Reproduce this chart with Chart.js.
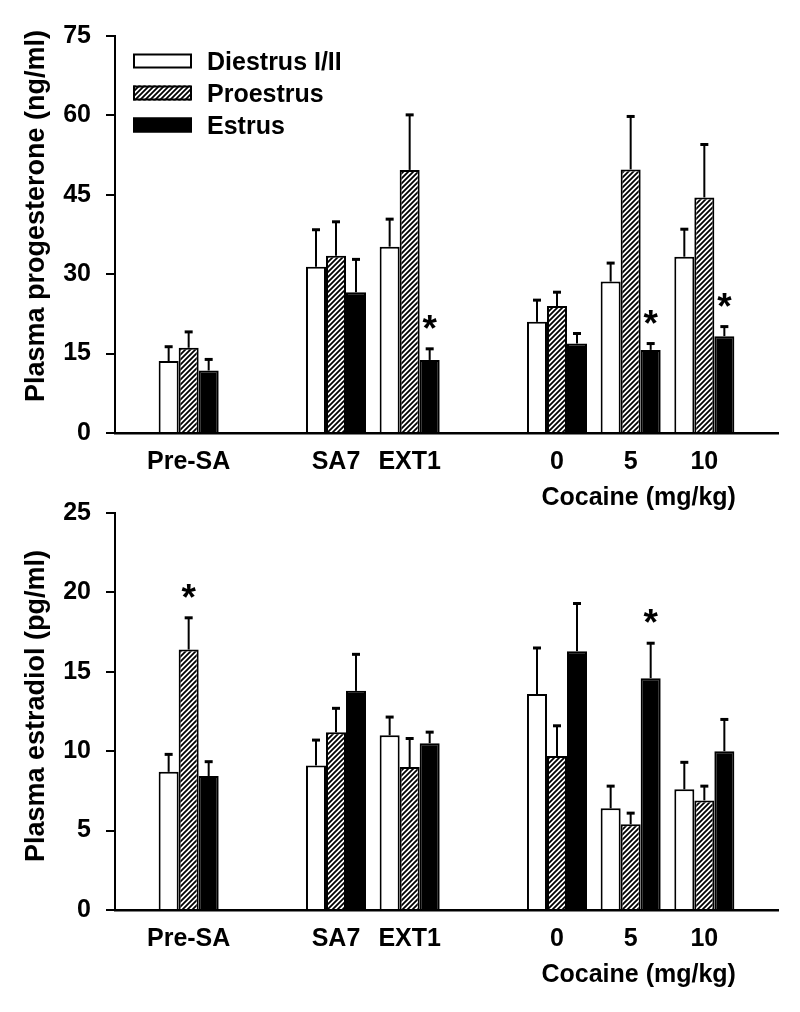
<!DOCTYPE html>
<html><head><meta charset="utf-8">
<script src="https://cdn.jsdelivr.net/npm/chart.js@4.4.0/dist/chart.umd.min.js"></script>
<style>
html,body{margin:0;padding:0;background:#fff;}
#wrap{position:relative;width:800px;height:1012px;overflow:hidden;background:#fff;}
canvas{position:absolute;left:0;}
#c1{top:0;}
#c2{top:477px;}
</style></head><body>
<div id="wrap">
<canvas id="c1" width="800" height="520"></canvas>
<canvas id="c2" width="800" height="535"></canvas>
</div>
<script>
// ---- data ----
const categories = ['', 'Pre-SA', '', 'SA7', 'EXT1', '', '0', '5', '10', ''];
const seriesNames = ['Diestrus I/II', 'Proestrus', 'Estrus'];
const xSubTitle = 'Cocaine (mg/kg)';

// Progesterone (ng/ml)
const progTitle = 'Plasma progesterone (ng/ml)';
const progTicks = [0, 15, 30, 45, 60, 75];
const progDiestrus    = [null, 13.6, null, 31.4, 35.2, null, 21.0, 28.6, 33.3, null];
const progDiestrusErr = [null, 2.7,  null, 7.0,  5.2,  null, 4.1,  3.5,  5.2,  null];
const progProestrus    = [null, 16.1, null, 33.5, 49.7, null, 24.0, 49.8, 44.5, null];
const progProestrusErr = [null, 3.0,  null, 6.4,  10.4, null, 2.6,  10.0, 10.0, null];
const progEstrus    = [null, 11.8, null, 26.6, 13.8, null, 16.9, 15.7, 18.3, null];
const progEstrusErr = [null, 2.1,  null, 6.2,  2.1,  null, 1.9,  1.2,  1.8,  null];
const progEstrusStar = [false, false, false, false, true, false, false, true, true, false];

// Estradiol (pg/ml)
const estrTitle = 'Plasma estradiol (pg/ml)';
const estrTicks = [0, 5, 10, 15, 20, 25];
const estrDiestrus    = [null, 8.7, null, 9.1, 11.0, null, 13.6, 6.4, 7.6, null];
const estrDiestrusErr = [null, 1.1, null, 1.6, 1.15, null, 2.9,  1.4, 1.7, null];
const estrProestrus    = [null, 16.4, null, 11.2, 9.0, null, 9.7, 5.4, 6.9, null];
const estrProestrusErr = [null, 2.0,  null, 1.5,  1.8, null, 1.9, 0.7, 0.9, null];
const estrProestrusStar = [false, true, false, false, false, false, false, false, false, false];
const estrEstrus    = [null, 8.44, null, 13.8, 10.5, null, 16.3, 14.6, 10.0, null];
const estrEstrusErr = [null, 0.9,  null, 2.3,  0.7,  null, 3.0,  2.2,  2.0,  null];
const estrEstrusStar = [false, false, false, false, false, false, false, true, false, false];

// ---- styles ----
const FONT = "'Liberation Sans', Arial, Helvetica, sans-serif";
Chart.defaults.font.family = FONT;
Chart.defaults.font.weight = 'bold';
Chart.defaults.color = '#000';

function hatchPattern() {
  const c = document.createElement('canvas');
  c.width = 5; c.height = 5;
  const g = c.getContext('2d');
  g.fillStyle = '#fff'; g.fillRect(0, 0, 5, 5);
  g.strokeStyle = '#000'; g.lineWidth = 1.8;
  g.beginPath();
  g.moveTo(-1, 6); g.lineTo(6, -1);
  g.moveTo(-2, 2); g.lineTo(2, -2);
  g.moveTo(3, 7); g.lineTo(7, 3);
  g.stroke();
  return g.createPattern(c, 'repeat');
}
const HATCH = hatchPattern();
const fills = ['#ffffff', HATCH, '#000000'];

const errPlugin = {
  id: 'errbars',
  afterDatasetsDraw(chart) {
    const ctx = chart.ctx, ys = chart.scales.y;
    ctx.save();
    chart.data.datasets.forEach((ds, i) => {
      const meta = chart.getDatasetMeta(i);
      meta.data.forEach((bar, j) => {
        const v = ds.data[j], e = ds.errors[j];
        if (v == null || e == null) return;
        const top = ys.getPixelForValue(v + e);
        ctx.strokeStyle = '#000';
        ctx.lineWidth = 2;
        ctx.beginPath(); ctx.moveTo(bar.x, bar.y); ctx.lineTo(bar.x, top); ctx.stroke();
        ctx.lineWidth = 3;
        ctx.beginPath(); ctx.moveTo(bar.x - 4, top); ctx.lineTo(bar.x + 4, top); ctx.stroke();
        if (ds.stars && ds.stars[j]) {
          ctx.fillStyle = '#000';
          ctx.font = 'bold 37px ' + FONT;
          ctx.textAlign = 'center'; ctx.textBaseline = 'alphabetic';
          ctx.fillText('*', bar.x, top - 8);
        }
      });
    });
    ctx.restore();
  }
};

const decorPlugin = {
  id: 'decor',
  afterDraw(chart, args, opts) {
    const ctx = chart.ctx, area = chart.chartArea, xs = chart.scales.x;
    ctx.save();
    ctx.fillStyle = '#000';
    // y title
    ctx.font = 'bold 27px ' + FONT;
    ctx.translate(44, opts.titleCenterY);
    ctx.rotate(-Math.PI / 2);
    ctx.textAlign = 'center'; ctx.textBaseline = 'alphabetic';
    ctx.fillText(opts.yTitle, 0, 0);
    ctx.restore();
    ctx.save();
    // sub-title under dose groups
    ctx.fillStyle = '#000';
    ctx.font = 'bold 25px ' + FONT;
    ctx.textAlign = 'center'; ctx.textBaseline = 'alphabetic';
    ctx.fillText(opts.xSub, xs.getPixelForValue(7) + 8, area.bottom + 72);
    // legend
    if (opts.legend) {
      chart.data.datasets.forEach((ds, i) => {
        const cy = area.top + 25 + i * 32;
        const bx = 133, bw = 59, bh = 15;
        ctx.fillStyle = ds.backgroundColor;
        ctx.fillRect(bx, cy - bh / 2, bw, bh);
        ctx.strokeStyle = '#000'; ctx.lineWidth = 2;
        ctx.strokeRect(bx + 1, cy - bh / 2 + 1, bw - 2, bh - 2);
        ctx.fillStyle = '#000';
        ctx.textAlign = 'left';
        ctx.fillText(ds.label, 207, cy + 9);
      });
    }
    ctx.restore();
  }
};

function makeChart(id, canvasH, sets, ticks, yMax, yTitle, titleCenterY, legend) {
  return new Chart(document.getElementById(id), {
    type: 'bar',
    data: {
      labels: categories,
      datasets: sets.map((s, i) => ({
        label: seriesNames[i],
        data: s.data,
        errors: s.err,
        stars: s.stars,
        backgroundColor: fills[i],
        borderColor: '#000',
        borderWidth: 2,
        borderSkipped: 'start',
        categoryPercentage: 0.815,
        barPercentage: 1.0
      }))
    },
    options: {
      responsive: false,
      animation: false,
      devicePixelRatio: 1,
      layout: { padding: { top: 36, left: 0, right: 22, bottom: 0 } },
      plugins: {
        legend: { display: false },
        tooltip: { enabled: false },
        decor: { yTitle: yTitle, titleCenterY: titleCenterY, legend: legend, xSub: xSubTitle }
      },
      scales: {
        x: {
          type: 'category',
          offset: false,
          grid: { display: false, drawTicks: false },
          border: { display: true, color: '#000', width: 2.5 },
          ticks: { autoSkip: false, maxRotation: 0, minRotation: 0, padding: 14,
                   font: { size: 25, weight: 'bold' }, color: '#000' },
          afterFit: s => { s.height = canvasH - 433; }
        },
        y: {
          min: 0, max: yMax,
          grid: { drawOnChartArea: false, drawTicks: true, tickLength: 9, color: '#000', lineWidth: 2 },
          border: { display: true, color: '#000', width: 2 },
          ticks: { padding: 15, font: { size: 25, weight: 'bold' }, color: '#000' },
          afterBuildTicks: s => { s.ticks = ticks.map(v => ({ value: v })); },
          afterFit: s => { s.width = 115; }
        }
      }
    },
    plugins: [errPlugin, decorPlugin]
  });
}

makeChart('c1', 520, [
  { data: progDiestrus, err: progDiestrusErr, stars: null },
  { data: progProestrus, err: progProestrusErr, stars: null },
  { data: progEstrus, err: progEstrusErr, stars: progEstrusStar }
], progTicks, 75, progTitle, 216, true);

makeChart('c2', 535, [
  { data: estrDiestrus, err: estrDiestrusErr, stars: null },
  { data: estrProestrus, err: estrProestrusErr, stars: estrProestrusStar },
  { data: estrEstrus, err: estrEstrusErr, stars: estrEstrusStar }
], estrTicks, 25, estrTitle, 229, false);
</script>
</body></html>
